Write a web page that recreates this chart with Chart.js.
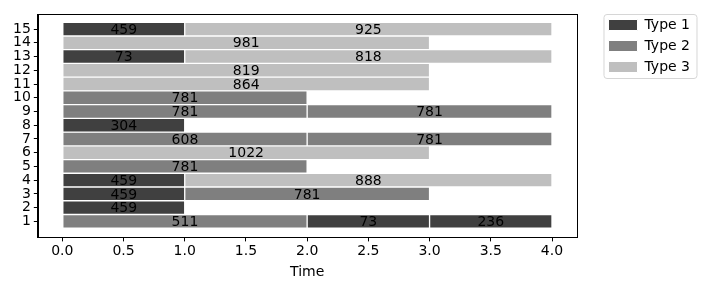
<!DOCTYPE html>
<html>
<head>
<meta charset="utf-8">
<script src="https://cdn.jsdelivr.net/npm/chart.js@4.4.0/dist/chart.umd.min.js"></script>
<style>
  html, body { margin: 0; padding: 0; background: #fff; }
  #wrap { width: 710px; height: 290px; }
</style>
</head>
<body>
<div id="wrap"><canvas id="ganttChart"></canvas></div>
<script>
// rows on the y axis and ticks on the time axis
var rows = [1, 2, 3, 4, 5, 6, 7, 8, 9, 10, 11, 12, 13, 14, 15];
var timeTicks = [0, 0.5, 1, 1.5, 2, 2.5, 3, 3.5, 4];
var typeNames = ["Type 1", "Type 2", "Type 3"];
var typeColors = ["#404040", "#7f7f7f", "#bfbfbf"];

// one entry per bar segment
var segRow   = [15, 15, 14, 13, 13, 12, 11, 10, 9, 9, 8, 7, 7, 6, 5, 4, 4, 3, 3, 2, 1, 1, 1];
var segStart = [0, 1, 0, 0, 1, 0, 0, 0, 0, 2, 0, 0, 2, 0, 0, 0, 1, 0, 1, 0, 0, 2, 3];
var segEnd   = [1, 4, 3, 1, 4, 3, 3, 2, 2, 4, 1, 2, 4, 3, 2, 1, 4, 1, 3, 1, 2, 3, 4];
var segType  = [1, 3, 3, 1, 3, 3, 3, 2, 2, 2, 1, 2, 2, 3, 2, 1, 3, 1, 2, 1, 2, 1, 1];
var segLabel = [459, 925, 981, 73, 818, 819, 864, 781, 781, 781, 304, 608, 781, 1022, 781, 459, 888, 459, 781, 459, 511, 73, 236];

Chart.defaults.font.family = "'DejaVu Sans', sans-serif";
Chart.defaults.font.size = 14;
Chart.defaults.color = "#000";

var datasets = typeNames.map(function (name, t) {
    var pts = [];
    for (var i = 0; i < segRow.length; i++) {
        if (segType[i] === t + 1) {
            pts.push({ y: segRow[i], x: [segStart[i], segEnd[i]], v: segLabel[i] });
        }
    }
    return {
        label: name,
        data: pts,
        backgroundColor: typeColors[t],
        borderColor: "#fff",
        borderWidth: 1,
        borderSkipped: false,
        grouped: false,
        categoryPercentage: 1,
        barPercentage: 1
    };
});

// numbers written in the middle of each segment
var segLabels = {
    id: "segLabels",
    afterDatasetsDraw: function (chart) {
        var ctx = chart.ctx;
        ctx.save();
        ctx.font = "14px 'DejaVu Sans'";
        ctx.fillStyle = "#000";
        ctx.textAlign = "center";
        ctx.textBaseline = "middle";
        chart.data.datasets.forEach(function (ds, di) {
            chart.getDatasetMeta(di).data.forEach(function (bar, i) {
                ctx.fillText(String(ds.data[i].v), (bar.x + bar.base) / 2, bar.y + 1);
            });
        });
        ctx.restore();
    }
};

// box round the plot and round the legend
var frames = {
    id: "frames",
    afterLayout: function (chart) {
        var lg = chart.legend;
        var dx = chart.chartArea.right + 25 - lg.left;
        var dy = -3;
        lg.left += dx; lg.right += dx;
        lg.top += dy; lg.bottom += dy;
    },
    afterDraw: function (chart) {
        var ctx = chart.ctx, a = chart.chartArea, lg = chart.legend;
        ctx.save();
        ctx.strokeStyle = "#000";
        ctx.lineWidth = 1;
        ctx.strokeRect(Math.round(a.left) + 0.5, Math.round(a.top) + 0.5,
            Math.round(a.right - a.left), Math.round(a.bottom - a.top));
        ctx.strokeStyle = "#d6d6d6";
        ctx.beginPath();
        ctx.roundRect(lg.left + 2.5, lg.top + 3.5, 93, 64, 3);
        ctx.stroke();
        ctx.restore();
    }
};

var ctx = document.getElementById("ganttChart").getContext("2d");
new Chart(ctx, {
    type: "bar",
    data: { datasets: datasets },
    options: {
        indexAxis: "y",
        responsive: true,
        maintainAspectRatio: false,
        animation: false,
        layout: { padding: { left: 10, top: 14, right: 35, bottom: 9 } },
        plugins: {
            legend: {
                position: "right",
                align: "start",
                labels: { boxWidth: 29, boxHeight: 11, padding: 7, color: "#000" }
            },
            tooltip: { enabled: false }
        },
        scales: {
            x: {
                type: "linear",
                min: -0.2,
                max: 4.2,
                afterBuildTicks: function (scale) {
                    scale.ticks = timeTicks.map(function (v) { return { value: v }; });
                },
                ticks: {
                    padding: 2,
                    maxRotation: 0,
                    autoSkip: false,
                    callback: function (v) { return Number(v).toFixed(1); }
                },
                grid: { drawOnChartArea: false, tickLength: 4, color: "#000" },
                border: { display: true, color: "#000" },
                title: { display: true, text: "Time", padding: { top: 2, bottom: 0 } }
            },
            y: {
                type: "linear",
                offset: false,
                min: -0.17,
                max: 16.1,
                afterBuildTicks: function (scale) {
                    scale.ticks = rows.map(function (v) { return { value: v }; });
                },
                ticks: { padding: 3, autoSkip: false },
                grid: { offset: false, drawOnChartArea: false, tickLength: 4, color: "#000" },
                border: { display: true, color: "#000" }
            }
        }
    },
    plugins: [segLabels, frames]
});
</script>
</body>
</html>
